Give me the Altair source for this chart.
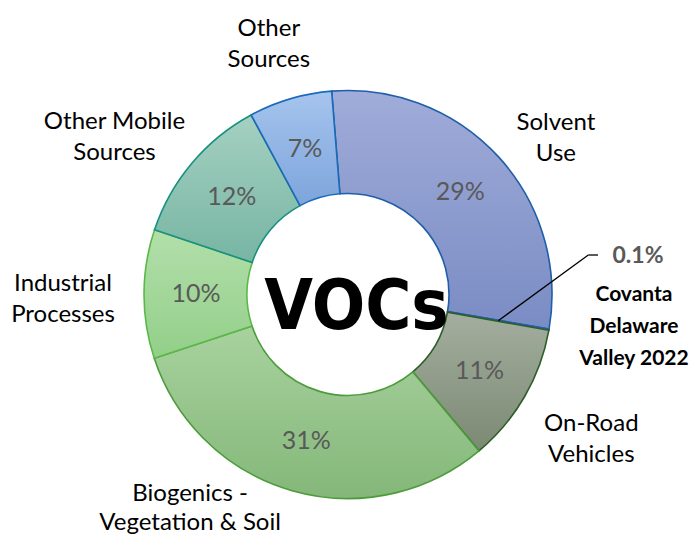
import math
import altair as alt
import pandas as pd

# ---- data ----
categories = ["Solvent Use", "Covanta Delaware Valley 2022", "On-Road Vehicles",
              "Biogenics - Vegetation & Soil", "Industrial Processes",
              "Other Mobile Sources", "Other Sources"]
values = [29.0, 0.1, 11.1, 31.05, 10.2, 12.0, 6.6]
pct_labels = ["29%", "0.1%", "11%", "31%", "10%", "12%", "7%"]
outer_labels = ["Solvent\nUse", "Covanta\nDelaware\nValley 2022", "On-Road\nVehicles",
                "Biogenics -\nVegetation & Soil", "Industrial\nProcesses",
                "Other Mobile\nSources", "Other\nSources"]

df = pd.DataFrame({
    "category": categories,
    "value": values,
    "pct": pct_labels,
    "label": outer_labels,
    "order": list(range(len(categories))),
})

total = sum(values)
start_angle = math.radians(-4.6)
theta_scale = alt.Scale(domain=[0, total], range=[start_angle, start_angle + 2 * math.pi])

CX, CY = 340, 286.5
R_IN, R_OUT = 101, 204
FONT = "Lato"

# styles per slice: (top color, bottom color, stroke)
styles = {
    "Solvent Use": ("#a0acd9", "#7a8cc4", "#1f5ea8"),
    "Covanta Delaware Valley 2022": ("#7a8cc4", "#7a8cc4", "#1f5ea8"),
    "On-Road Vehicles": ("#a4ae9f", "#7b8a73", "#2e5e28"),
    "Biogenics - Vegetation & Soil": ("#a8d29e", "#84b779", "#4c9c3c"),
    "Industrial Processes": ("#b2dfaa", "#93cf89", "#5ab848"),
    "Other Mobile Sources": ("#a5d0c1", "#77b5a3", "#169080"),
    "Other Sources": ("#a6c4ee", "#7da5db", "#1b6ab8"),
}

# label placement (radius, angle offset in degrees, line height) for outer labels
label_place = {
    "Solvent Use": (259.7, 5.6, 31),
    "Other Sources": (262.2, -1.1, 31),
    "Other Mobile Sources": (281.2, -6.2, 31),
    "Industrial Processes": (285.0, -1.05, 31),
    "On-Road Vehicles": (283.2, 0.7, 31),
    "Biogenics - Vegetation & Soil": (266.0, 20.5, 29),
}

base = alt.Chart(df).transform_window(
    end="sum(value)", sort=[alt.SortField("order")], frame=[None, 0]
).transform_calculate(
    start="datum.end - datum.value",
    mid="datum.end - datum.value / 2",
)


def grad(c1, c2):
    return alt.Gradient(
        gradient="linear",
        stops=[alt.GradientStop(color=c1, offset=0), alt.GradientStop(color=c2, offset=1)],
        x1=0, x2=0, y1=0, y2=1,
    )


layers = []
for cat in categories:
    c1, c2, st = styles[cat]
    layers.append(
        base.transform_filter(alt.datum.category == cat).mark_arc(
            innerRadius=R_IN, outerRadius=R_OUT, fill=grad(c1, c2),
            stroke=st, strokeWidth=1.6,
        ).encode(
            theta=alt.Theta("start:Q", scale=theta_scale, stack=None),
            theta2="end:Q",
            x=alt.value(CX), y=alt.value(CY),
        )
    )

# percentage labels inside slices
layers.append(
    base.transform_filter(alt.datum.category != "Covanta Delaware Valley 2022").mark_text(
        radius=152, font=FONT, fontSize=25, color="#595959", align="center", baseline="middle"
    ).encode(
        theta=alt.Theta("mid:Q", scale=theta_scale, stack=None),
        text="pct:N",
        x=alt.value(CX), y=alt.value(CY),
    )
)

# outer category labels (two lines each; dy centres the block)
for cat, (r, off, lh) in label_place.items():
    layers.append(
        base.transform_filter(alt.datum.category == cat).mark_text(
            radius=r, thetaOffset=math.radians(off), font=FONT, fontSize=24,
            color="#000000", align="center", baseline="middle", lineBreak="\n",
            lineHeight=lh, dy=-lh / 2,
        ).encode(
            theta=alt.Theta("mid:Q", scale=theta_scale, stack=None),
            text="label:N",
            x=alt.value(CX), y=alt.value(CY),
        )
    )

# Covanta callout
cov = base.transform_filter(alt.datum.category == "Covanta Delaware Valley 2022")
layers.append(
    cov.mark_text(font=FONT, fontSize=23, fontWeight="bold", color="#595959",
                  align="center", baseline="middle").encode(
        text="pct:N", x=alt.value(630), y=alt.value(248))
)
layers.append(
    cov.mark_text(font=FONT, fontSize=21, fontWeight="bold", color="#000000",
                  align="center", baseline="middle", lineBreak="\n", lineHeight=32).encode(
        text="label:N", x=alt.value(626), y=alt.value(287))
)
layers.append(
    cov.mark_rule(color="#000000", strokeWidth=1.3).encode(
        x=alt.value(490.3), y=alt.value(312.7), x2=alt.value(580.3), y2=alt.value(247))
)
layers.append(
    cov.mark_rule(color="#000000", strokeWidth=1.3).encode(
        x=alt.value(580.3), y=alt.value(247), x2=alt.value(590), y2=alt.value(247))
)

# center title
title_df = pd.DataFrame({"t": ["VOCs"]})
layers.append(
    alt.Chart(title_df).mark_text(
        font="DejaVu Sans Condensed", fontSize=70, fontWeight="bold",
        color="#000000", align="center", baseline="alphabetic",
    ).encode(text="t:N", x=alt.value(348.5), y=alt.value(321))
)

chart = alt.layer(*layers).properties(
    width=683, height=527, padding=0, autosize=alt.AutoSizeParams(type="none"),
    background="#ffffff",
).configure_view(stroke=None)

chart.save("out.html", embed_options={"renderer": "svg", "actions": False})
